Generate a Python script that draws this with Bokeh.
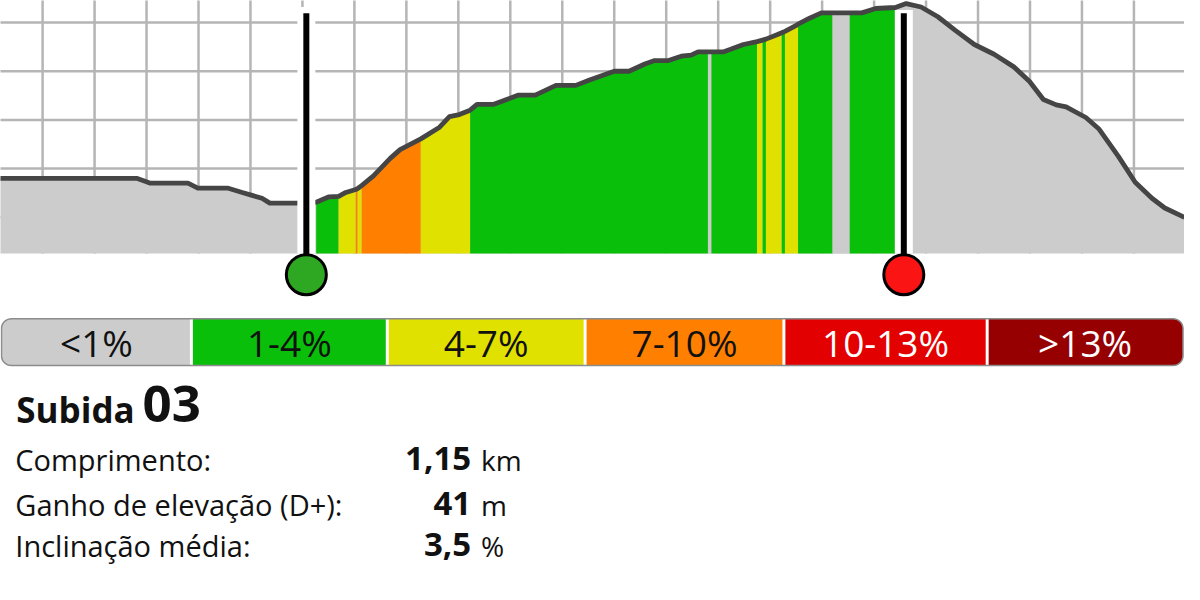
import numpy as np
from bokeh.plotting import figure
from bokeh.layouts import column
from bokeh.models import Range1d
from bokeh.embed import file_html
from bokeh.resources import INLINE
from bokeh.core.properties import value

# ---------------- data ----------------
# elevation profile before the climb (km, m)
PRE_KM = [0.0, 0.281, 0.3076, 0.3797, 0.3987, 0.4557, 0.4841, 0.5031, 0.5221, 0.5373, 0.5886]
PRE_ELEV = [108.0, 108.0, 107.0, 107.0, 106.0, 106.0, 105.1, 104.5, 103.9, 102.9, 102.9]

# the climb itself (km, m) and gradient class of every interval
CLIMB_KM = [0.6265, 0.6512, 0.6697, 0.6835, 0.7025, 0.7063, 0.7139, 0.7367, 0.7689, 0.7879,
            0.8278, 0.8639, 0.8829, 0.9019, 0.9227, 0.9360, 0.9683, 0.9930, 1.0158, 1.0480,
            1.0879, 1.1259, 1.1525, 1.2000, 1.2284, 1.2588, 1.2778, 1.3044, 1.3290, 1.3480,
            1.3613, 1.3803, 1.3870, 1.4107, 1.4240, 1.4487, 1.4748, 1.4854, 1.4919, 1.5132,
            1.5222, 1.5285, 1.5512, 1.5537, 1.5759, 1.5987, 1.6201, 1.6531, 1.6765, 1.7031,
            1.7410]
CLIMB_ELEV = [103.1, 104.2, 104.3, 105.1, 105.7, 105.9, 106.5, 108.5, 112.1, 113.9,
              116.1, 118.5, 120.7, 121.1, 122.0, 123.2, 123.2, 124.2, 125.1, 125.1,
              127.1, 127.1, 128.2, 130.0, 130.0, 131.5, 132.2, 132.2, 133.1, 133.3,
              134.0, 134.0, 134.0, 134.0, 134.5, 135.5, 136.1, 136.4, 136.6, 137.5,
              137.9, 138.2, 139.5, 139.7, 140.9, 142.0, 142.0, 142.0, 142.0, 142.9,
              143.1]
CLIMB_CLASS = [1, 1, 2, 2, 3, 2, 3, 3, 3, 3,
               2, 2, 2, 2, 1, 1, 1, 1, 1, 1,
               1, 1, 1, 1, 1, 1, 1, 1, 1, 1,
               1, 0, 1, 1, 1, 1, 2, 1, 2, 2,
               1, 2, 2, 1, 1, 1, 0, 1, 1, 1]

# profile after the climb (km, m)
POST_KM = [1.7619, 1.7904, 1.8227, 1.8550, 1.8929, 1.9309, 1.9689, 1.9992, 2.0258, 2.0505,
           2.0695, 2.1075, 2.1322, 2.1701, 2.2024, 2.2347, 2.2594, 2.2973]
POST_ELEV = [143.9, 143.2, 141.2, 138.5, 135.5, 133.5, 130.9, 127.9, 124.2, 123.1,
             122.7, 120.5, 118.2, 112.5, 107.2, 103.9, 101.9, 100.0]

# start / end of the climb (km)
CLIMB_START_KM = 0.6075
CLIMB_END_KM = 1.7572

# grid ticks
GRID_KM = [0.1, 0.2, 0.3, 0.4, 0.5, 0.6, 0.7, 0.8, 0.9, 1.0, 1.1,
           1.2, 1.3, 1.4, 1.5, 1.6, 1.7, 1.8, 1.9, 2.0, 2.1, 2.2]
GRID_ELEV = [100, 110, 120, 130, 140]

# gradient legend
LEGEND_LABELS = ["<1%", "1-4%", "4-7%", "7-10%", "10-13%", ">13%"]
CLASS_COLORS = ["#cccccc", "#0abf0a", "#e1e100", "#ff8000", "#e30000", "#960000"]
LEGEND_TEXT_COLORS = ["#111111", "#111111", "#111111", "#111111", "#ffffff", "#ffffff"]

# summary
TITLE = "Subida"
CLIMB_NUMBER = "03"
STAT_LABELS = ["Comprimento:", "Ganho de elevação (D+):", "Inclinação média:"]
STAT_VALUES = ["1,15", "41", "3,5"]
STAT_UNITS = ["km", "m", "%"]

FONT = "Open Sans"

# ---------------- profile figure ----------------
BASE = 92.54       # elevation at the bottom edge of the profile fill
TOP = 146.0
MARKER_ELEV = 88.2
POLE_TOP = 141.9
WHITE_TOP = [143.2, 142.6]

p1 = figure(width=1184, height=304, output_backend="svg", toolbar_location=None,
            x_range=Range1d(0.018986, 2.29732), y_range=Range1d(82.074, 144.54),
            min_border=0)
p1.axis.visible = False
p1.grid.visible = False
p1.outline_line_color = None
p1.background_fill_color = "white"
p1.border_fill_color = "white"

GRID_COLOR = "#b5b5b5"
p1.segment(x0=[0.0] * len(GRID_ELEV), x1=[2.4] * len(GRID_ELEV), y0=GRID_ELEV, y1=GRID_ELEV,
           line_color=GRID_COLOR, line_width=2.5)
p1.segment(x0=GRID_KM, x1=GRID_KM, y0=[BASE] * len(GRID_KM), y1=[TOP] * len(GRID_KM),
           line_color=GRID_COLOR, line_width=2.5)

ALL_KM = PRE_KM + CLIMB_KM + POST_KM
ALL_ELEV = PRE_ELEV + CLIMB_ELEV + POST_ELEV

p1.varea(x=ALL_KM, y1=[BASE] * len(ALL_KM), y2=ALL_ELEV, fill_color="#cccccc")

# coloured climb sections (runs of equal gradient class)
runs = []
s = 0
for i in range(1, len(CLIMB_CLASS) + 1):
    if i == len(CLIMB_CLASS) or CLIMB_CLASS[i] != CLIMB_CLASS[s]:
        runs.append((s, i))
        s = i
xs, ys, cs = [], [], []
for a, b in runs:
    px = CLIMB_KM[a:b + 1]
    py = CLIMB_ELEV[a:b + 1]
    xs.append(px + [px[-1], px[0]])
    ys.append(py + [BASE, BASE])
    cs.append(CLASS_COLORS[CLIMB_CLASS[a]])
p1.patches(xs=xs, ys=ys, fill_color=cs, line_color=None)

p1.line(ALL_KM, ALL_ELEV, line_color="#454545", line_width=4.8, line_join="round")

POLES = [CLIMB_START_KM, CLIMB_END_KM]
p1.segment(x0=POLES, x1=POLES, y0=[BASE, BASE], y1=WHITE_TOP, line_color="white",
           line_width=18)
p1.segment(x0=POLES, x1=POLES, y0=[MARKER_ELEV, MARKER_ELEV], y1=[POLE_TOP, POLE_TOP],
           line_color="black", line_width=6)
p1.scatter(x=POLES, y=[MARKER_ELEV, MARKER_ELEV], size=40,
           fill_color=["#2ea822", "#fa1414"], line_color="black", line_width=3)

# ---------------- legend + summary figure ----------------
p2 = figure(width=1184, height=280, output_backend="svg", toolbar_location=None,
            x_range=Range1d(0, 1200), y_range=Range1d(600, 312.33), min_border=0)
p2.axis.visible = False
p2.grid.visible = False
p2.outline_line_color = None
p2.background_fill_color = "white"
p2.border_fill_color = "white"

LEG_EDGES = [1, 193.5, 392, 592.5, 794, 1000, 1198.5]
LEG_TOP, LEG_BOT, R = 327, 375, 10


def rounded(x0, x1, y0, y1, rl, rr):
    px, py = [], []
    if rl > 0:
        t = np.linspace(np.pi, 1.5 * np.pi, 10)
        px += list(x0 + rl + rl * np.cos(t)); py += list(y0 + rl + rl * np.sin(t))
    else:
        px.append(x0); py.append(y0)
    if rr > 0:
        t = np.linspace(1.5 * np.pi, 2 * np.pi, 10)
        px += list(x1 - rr + rr * np.cos(t)); py += list(y0 + rr + rr * np.sin(t))
        t = np.linspace(0, 0.5 * np.pi, 10)
        px += list(x1 - rr + rr * np.cos(t)); py += list(y1 - rr + rr * np.sin(t))
    else:
        px += [x1, x1]; py += [y0, y1]
    if rl > 0:
        t = np.linspace(0.5 * np.pi, np.pi, 10)
        px += list(x0 + rl + rl * np.cos(t)); py += list(y1 - rl + rl * np.sin(t))
    else:
        px.append(x0); py.append(y1)
    return px, py


lx, ly = [], []
n = len(LEGEND_LABELS)
for i in range(n):
    x0 = LEG_EDGES[i] + (0 if i == 0 else 1.5)
    x1 = LEG_EDGES[i + 1] - (0 if i == n - 1 else 1.5)
    a, b = rounded(x0, x1, LEG_TOP, LEG_BOT, R if i == 0 else 0, R if i == n - 1 else 0)
    lx.append(a); ly.append(b)
p2.patches(xs=lx, ys=ly, fill_color=CLASS_COLORS, line_color=None)
ox, oy = rounded(LEG_EDGES[0], LEG_EDGES[-1], LEG_TOP, LEG_BOT, R, R)
p2.line(ox + [ox[0]], oy + [oy[0]], line_color="#8c8c8c", line_width=1.5)

centers = [(LEG_EDGES[i] + LEG_EDGES[i + 1]) / 2 for i in range(n)]
p2.text(x=centers, y=[351] * n, text=LEGEND_LABELS, text_color=LEGEND_TEXT_COLORS,
        text_font=value(FONT), text_font_size=value("37px"), text_align="center",
        text_baseline="alphabetic")

p2.text(x=[16], y=[420], text=[TITLE], text_font=value(FONT), text_font_style="bold",
        text_font_size=value("35px"), text_color="#111111", text_baseline="alphabetic")
p2.text(x=[144], y=[415], text=[CLIMB_NUMBER], text_font=value(FONT), text_font_style="bold",
        text_font_size=value("51px"), text_color="#111111", text_baseline="alphabetic")

LABEL_Y = [472, 518, 560]
VALUE_Y = [470.5, 516.5, 558.5]
UNIT_Y = [472, 518, 560]
p2.text(x=[15] * 3, y=LABEL_Y, text=STAT_LABELS, text_font=value(FONT),
        text_font_size=value("29px"), text_color="#111111", text_baseline="alphabetic")
p2.text(x=[477] * 3, y=VALUE_Y, text=STAT_VALUES, text_font=value(FONT), text_font_style="bold",
        text_font_size=value("33px"), text_color="#111111", text_align="right",
        text_baseline="alphabetic")
p2.text(x=[487] * 3, y=UNIT_Y, text=STAT_UNITS, text_font=value(FONT),
        text_font_size=value("28px"), text_color="#111111", text_baseline="alphabetic")

layout = column(p1, p2, spacing=0)
open("out.html", "w").write(file_html(layout, INLINE))
